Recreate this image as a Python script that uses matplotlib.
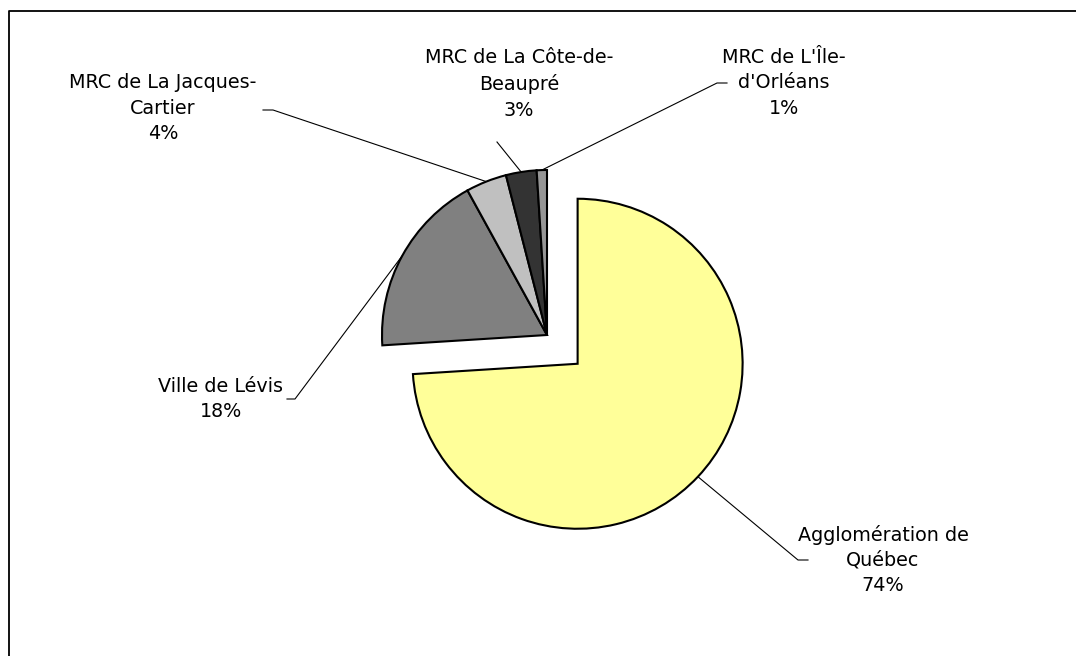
import numpy as np
import matplotlib.pyplot as plt

# données
regions = ["Agglomération de\nQuébec", "Ville de Lévis", "MRC de La Jacques-\nCartier",
           "MRC de La Côte-de-\nBeaupré", "MRC de L'Île-\nd'Orléans"]
shares = [74, 18, 4, 3, 1]
colors = ['#FFFF99', '#808080', '#C0C0C0', '#333333', '#969696']
explode = [42, 0, 0, 0, 0]

W, H = 1076, 656

def py(y):
    return H - y

# position des étiquettes (centre du bloc), coude et bout de la ligne de rappel
label_pos = [(883, 560), (221, 399), (163, 108), (519, 84), (784, 83)]
elbows = [(798, 560), (295, 399), (273, 110), (497, 142), (717, 83)]
stubs = [(808, 560), (287, 399), (263, 110), None, (727, 83)]

fig = plt.figure(figsize=(W / 100, H / 100), dpi=100)
ax = fig.add_axes([0, 0, 1, 1])

wedges, _ = ax.pie(shares, colors=colors, explode=explode, startangle=90, counterclock=False,
                   center=(547, py(335)), radius=165,
                   wedgeprops=dict(edgecolor='black', linewidth=1.5), frame=True)
ax.set_xlim(0, W)
ax.set_ylim(0, H)
ax.set_aspect('equal')
ax.axis('off')

for w, name, v, lp, el, st in zip(wedges, regions, shares, label_pos, elbows, stubs):
    mid = np.deg2rad((w.theta1 + w.theta2) / 2)
    x0 = w.center[0] + w.r * np.cos(mid)
    y0 = w.center[1] + w.r * np.sin(mid)
    xs = [x0, el[0]]
    ys = [y0, py(el[1])]
    if st is not None:
        xs.append(st[0])
        ys.append(py(st[1]))
    ax.plot(xs, ys, color='black', linewidth=0.8, zorder=0)
    ax.text(lp[0], py(lp[1]), f"{name}\n{v}%", ha='center', va='center',
            fontsize=13.8, linespacing=1.43, family='DejaVu Sans')

# cadre
ax.plot([9, 9, W + 5], [-5, py(11), py(11)], color='black', linewidth=1.3, clip_on=False)

plt.savefig('out.png', dpi=100)
